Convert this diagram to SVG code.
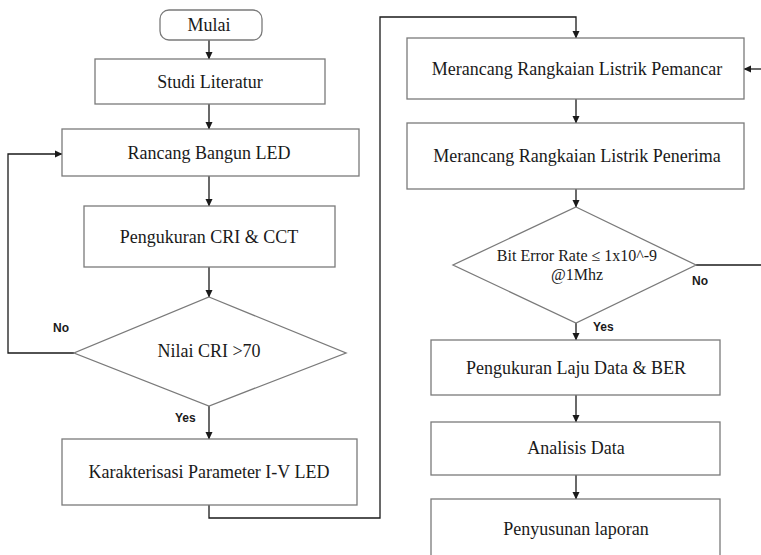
<svg xmlns="http://www.w3.org/2000/svg" width="761" height="555" viewBox="0 0 761 555">
<style>
.box{fill:#fff;stroke:#7a7a7a;stroke-width:1.3}
.t{font-family:'Liberation Serif','Times New Roman',Tinos,'DejaVu Serif',serif;font-size:18px;fill:#1a1a1a;text-anchor:middle}
.ts{font-size:16px}
.lbl{font-family:'Liberation Sans',Arial,sans-serif;font-size:12px;font-weight:bold;fill:#1a1a1a}
.c{fill:none;stroke:#1a1a1a;stroke-width:1.3}
</style>
<defs>
<marker id="ah" markerWidth="8" markerHeight="8" refX="7" refY="4" orient="auto" markerUnits="userSpaceOnUse">
<path d="M0,0.5 L7.5,4 L0,7.5 Z" fill="#1a1a1a"/>
</marker>
</defs>
<rect width="761" height="555" fill="#fff"/>
<g id="connectors">
<line class="c" x1="209" y1="40" x2="209" y2="59" marker-end="url(#ah)"/>
<line class="c" x1="209" y1="104" x2="209" y2="129" marker-end="url(#ah)"/>
<line class="c" x1="209" y1="176" x2="209" y2="206" marker-end="url(#ah)"/>
<line class="c" x1="209" y1="267" x2="209" y2="297" marker-end="url(#ah)"/>
<polyline class="c" points="74,353 8,353 8,154 62,154" marker-end="url(#ah)"/>
<line class="c" x1="209" y1="406" x2="209" y2="439" marker-end="url(#ah)"/>
<polyline class="c" points="209,505 209,518 380,518 380,17 576,17 576,38" marker-end="url(#ah)"/>
<line class="c" x1="761" y1="69" x2="744" y2="69" marker-end="url(#ah)"/>
<line class="c" x1="576" y1="99" x2="576" y2="123" marker-end="url(#ah)"/>
<line class="c" x1="576" y1="189" x2="576" y2="207" marker-end="url(#ah)"/>
<line class="c" x1="696" y1="265" x2="761" y2="265"/>
<line class="c" x1="576" y1="323" x2="576" y2="340" marker-end="url(#ah)"/>
<line class="c" x1="576" y1="395" x2="576" y2="422" marker-end="url(#ah)"/>
<line class="c" x1="576" y1="475" x2="576" y2="499" marker-end="url(#ah)"/>
<text class="lbl" x="53" y="332">No</text>
<text class="lbl" x="175" y="422">Yes</text>
<text class="lbl" x="692" y="285">No</text>
<text class="lbl" x="593" y="331">Yes</text>
</g>
<g id="mulai">
<rect class="box" x="160" y="10" width="102" height="30" rx="9"/>
<text class="t" x="209" y="31">Mulai</text>
</g>
<g id="studi">
<rect class="box" x="95" y="59" width="230" height="45"/>
<text class="t" x="210" y="88">Studi Literatur</text>
</g>
<g id="rancang">
<rect class="box" x="62" y="129" width="297" height="47"/>
<text class="t" x="209" y="159">Rancang Bangun LED</text>
</g>
<g id="pengukuran-cri">
<rect class="box" x="84" y="206" width="251" height="61"/>
<text class="t" x="209" y="243">Pengukuran CRI &amp; CCT</text>
</g>
<g id="cek-cri">
<polygon class="box" points="209,297 346,353 209,406 74,353"/>
<text class="t" x="209" y="357">Nilai CRI &gt;70</text>
</g>
<g id="karakterisasi">
<rect class="box" x="62" y="439" width="295" height="66"/>
<text class="t" x="209" y="478">Karakterisasi Parameter I-V LED</text>
</g>
<g id="pemancar">
<rect class="box" x="407" y="38" width="337" height="61"/>
<text class="t" x="577" y="75">Merancang Rangkaian Listrik Pemancar</text>
</g>
<g id="penerima">
<rect class="box" x="407" y="123" width="337" height="66"/>
<text class="t" x="577" y="162">Merancang Rangkaian Listrik Penerima</text>
</g>
<g id="cek-ber">
<polygon class="box" points="576,207 696,265 576,323 453,265"/>
<text class="t ts" x="577" y="261">Bit Error Rate ≤ 1x10^-9</text>
<text class="t ts" x="577" y="280">@1Mhz</text>
</g>
<g id="laju-data">
<rect class="box" x="431" y="340" width="289" height="55"/>
<text class="t" x="576" y="374">Pengukuran Laju Data &amp; BER</text>
</g>
<g id="analisis">
<rect class="box" x="431" y="422" width="289" height="53"/>
<text class="t" x="576" y="454">Analisis Data</text>
</g>
<g id="laporan">
<rect class="box" x="431" y="499" width="289" height="70"/>
<text class="t" x="576" y="535">Penyusunan laporan</text>
</g>
</svg>
